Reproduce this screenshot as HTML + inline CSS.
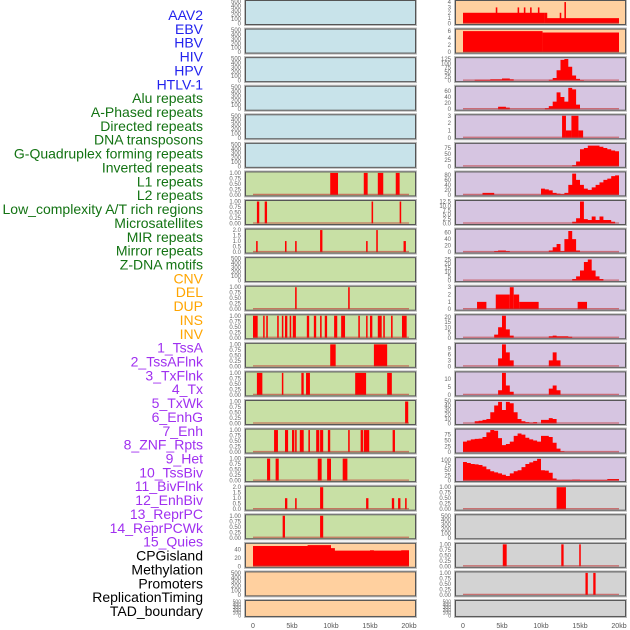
<!DOCTYPE html>
<html><head><meta charset="utf-8"><style>
html,body{margin:0;padding:0;background:#fff;width:630px;height:630px;overflow:hidden}
svg{display:block}
</style></head><body>
<svg id="chart" width="630" height="630" viewBox="0 0 630 630" xmlns="http://www.w3.org/2000/svg" font-family="Liberation Sans, sans-serif"></svg>
<script>
const trackLabels = ["AAV2","EBV","HBV","HIV","HPV","HTLV-1","Alu repeats","A-Phased repeats","Directed repeats","DNA transposons","G-Quadruplex forming repeats","Inverted repeats","L1 repeats","L2 repeats","Low_complexity A/T rich regions","Microsatellites","MIR repeats","Mirror repeats","Z-DNA motifs","CNV","DEL","DUP","INS","INV","1_TssA","2_TssAFlnk","3_TxFlnk","4_Tx","5_TxWk","6_EnhG","7_Enh","8_ZNF_Rpts","9_Het","10_TssBiv","11_BivFlnk","12_EnhBiv","13_ReprPC","14_ReprPCWk","15_Quies","CPGisland","Methylation","Promoters","ReplicationTiming","TAD_boundary"];
const labelGroups = ["v","v","v","v","v","v","r","r","r","r","r","r","r","r","r","r","r","r","r","s","s","s","s","s","c","c","c","c","c","c","c","c","c","c","c","c","c","c","c","o","o","o","o","o"];
const xTickValues = [0,5,10,15,20];
const xTickLabels = ["0","5kb","10kb","15kb","20kb"];

// Left column tracks (segments: [startKb, endKb, value])
const segL6 = [[9.9,10.9,1],[14.2,14.7,1],[16.0,16.7,1],[18.3,18.8,1]];
const segL7 = [[0.5,0.8,1],[1.5,1.8,1],[15.2,15.4,1],[18.8,19.0,1]];
const segL8 = [[0.4,0.6,1],[4.1,4.3,1],[5.4,5.6,1],[8.6,8.9,2],[14.5,14.7,1],[15.8,16.0,2],[19.3,19.6,1]];
const segL10 = [[5.4,5.6,1],[12.2,12.4,1]];
const segL11 = [[0,0.6,1],[1.3,1.4,1],[1.7,1.9,1],[3.1,3.3,1],[3.7,3.8,1],[4.1,4.4,1],[4.7,4.9,1],[5.1,5.5,1],[6.9,7.2,1],[7.8,8.1,1],[8.6,8.8,1],[9.2,9.5,1],[10.4,10.8,1],[11.3,11.8,1],[13.5,13.7,1],[14.5,14.6,1],[15.0,15.3,1],[16.0,16.5,1],[16.7,16.9,1],[17.7,17.9,1],[19.1,19.7,1]];
const segL12 = [[9.9,10.6,1],[15.5,17.2,1]];
const segL13 = [[0.5,1.2,1],[3.7,3.8,1],[6.2,6.5,1],[6.8,7.3,1],[13.1,14.5,1],[17.2,17.8,1]];
const segL14 = [[19.5,19.9,1]];
const segL15 = [[2.7,3.2,1],[4.1,4.5,1],[5.0,5.3,1],[5.4,5.6,1],[6.0,6.5,1],[7.1,7.3,1],[8.1,8.5,1],[8.6,9.0,1],[9.6,9.9,1],[12.2,12.4,1],[13.8,14.1,1],[14.2,14.9,1],[17.9,18.2,1]];
const segL16 = [[1.8,2.2,1],[2.9,3.3,1],[8.3,8.8,1],[9.5,10.0,1],[11.5,12.1,1]];
const segL17 = [[4.1,4.4,1],[5.4,5.6,1],[8.6,9.0,2],[14.5,14.8,1],[17.8,18.1,1],[18.6,18.9,1],[19.5,19.7,1]];
const segL18 = [[3.8,4.1,1],[8.6,9.0,1]];
const binsL19 = [48,48,48,48,48,48,48,48,48,48,48,48,48,48,50,50,50,50,50,50,43,37,37,37,37,37,37,37,37,37,38,37,37,37,37,37,37,37,38,38];

// Right column tracks
const segR0 = [[0,10.5,2],[10.5,20,1],[4.2,4.4,3],[7.0,7.2,3],[7.8,8.0,3],[8.6,8.8,3],[9.6,9.8,3],[10.5,10.8,2],[12.4,12.6,2],[13.0,13.2,4]];
const segR1 = [[0,10.2,6],[10.2,20,5.6]];
const binsR2 = [0,0,0,5,5,5,5,8,8,8,12,12,8,0,0,0,0,0,0,0,0,0,5,15,60,120,125,80,30,10,3,0,0,0,0,0,0,0,0,0];
const binsR3 = [0,0,0,0,0,0,0,0,0,8,8,5,0,0,0,0,0,0,0,0,0,3,10,25,55,40,25,70,65,15,0,0,0,0,0,0,0,0,0,0];
const segR4 = [[12.7,13.2,3],[13.2,13.9,1],[13.9,14.8,3],[14.8,15.4,1]];
const binsR5 = [0,0,0,0,0,0,0,0,0,0,0,0,0,0,0,0,0,0,0,0,0,0,0,0,0,0,0,0,5,20,70,75,85,85,85,80,75,70,65,62];
const binsR6 = [0,0,0,0,0,8,8,8,0,0,0,0,0,0,0,0,0,0,0,0,25,22,18,8,5,3,8,40,85,60,40,25,20,30,40,50,60,65,75,78];
const binsR7 = [0,0,0,0,0,0,0,0,0,0,0,0,0,0,0,0,0,0,0,0,0,0,0,0,0,0,0,0,1,3,12.5,2.5,2,4,2,4,2,2,1,0];
const binsR8 = [0,0,0,0,0,0,0,0,3,5,5,3,0,0,0,0,0,0,0,0,0,0,5,15,25,3,40,65,40,5,0,0,0,0,0,0,0,0,0,0];
const binsR9 = [0,0,0,0,0,0,0,0,0,0,0,0,0,0,0,0,0,0,0,0,0,0,0,0,0,0,0,0,2,5,12,22,25,12,5,2,0,0,0,0];
const segR10 = [[1.8,3.0,1],[4.2,6.0,2],[6.0,6.5,3],[6.5,7.2,2],[7.2,9.7,1],[14.7,15.9,1]];
const binsR11 = [0,0,0,0,0,0,0,0,3,10,21,8,2,0,0,0,0,0,0,0,0,0,1.5,2,1.5,1.5,1.5,1,0,0,0,0,0,0,0,0,0,0,0,0];
const binsR12 = [0,0,0,0,0,0,0,0,0,4,11,7,3,0,0,0,0,0,0,0,0,0,3,7,3,0,0,0,0,0,0,0,0,0,0,0,0,0,0,0];
const binsR13 = [0,0,0,0,0,0,0,0,0,3,14,6,2,0,0,0,0,0,0,0,0,0,4,6,3,0,0,0,0,0,0,0,0,0,0,0,0,0,0,0];
const binsR14 = [0,0,0,5,6,8,10,25,40,48,30,48,45,25,10,5,3,2,3,0,8,8,12,10,0,0,0,0,0,0,0,0,0,0,0,0,0,0,0,0];
const binsR15 = [45,50,55,57,58,65,85,95,92,60,30,35,45,70,80,75,62,55,50,45,70,70,65,40,15,3,0,0,0,0,0,0,0,0,0,0,0,0,0,0];
const binsR16 = [90,85,80,78,75,68,55,45,40,35,28,22,35,45,50,65,80,88,95,105,50,48,38,10,3,3,3,3,5,5,3,3,3,3,3,3,3,8,8,8];
const segR17 = [[12.0,13.2,1]];
const segR19 = [[5.1,5.6,1],[12.6,12.9,1],[14.9,15.1,1]];
const segR20 = [[15.7,16.0,1],[16.7,17.0,1]];

const ticksEmpty = [0,100,200,300,400,500];
const ticksUnit = [0,0.25,0.5,0.75,1];
const ticksTwo = [0,0.5,1,1.5,2];

// panel specs: [name, fill, segments, bins, ymax, ticks, tickDecimals]
const C_BLUE="#c8e3ea", C_GREEN="#c8e0a5", C_ORANGE="#ffd09f", C_PURPLE="#d6c5e1", C_GRAY="#d3d3d3";
const leftPanels = [
 ["aav2",C_BLUE,null,null,500,ticksEmpty,0],["ebv",C_BLUE,null,null,500,ticksEmpty,0],["hbv",C_BLUE,null,null,500,ticksEmpty,0],
 ["hiv",C_BLUE,null,null,500,ticksEmpty,0],["hpv",C_BLUE,null,null,500,ticksEmpty,0],["htlv1",C_BLUE,null,null,500,ticksEmpty,0],
 ["alu",C_GREEN,segL6,null,1,ticksUnit,2],["a-phased",C_GREEN,segL7,null,1,ticksUnit,2],["directed",C_GREEN,segL8,null,2,ticksTwo,1],
 ["dna-transposons",C_GREEN,null,null,500,ticksEmpty,0],["g-quadruplex",C_GREEN,segL10,null,1,ticksUnit,2],["inverted",C_GREEN,segL11,null,1,ticksUnit,2],
 ["l1",C_GREEN,segL12,null,1,ticksUnit,2],["l2",C_GREEN,segL13,null,1,ticksUnit,2],["low-complexity",C_GREEN,segL14,null,1,ticksUnit,2],
 ["microsatellites",C_GREEN,segL15,null,1,ticksUnit,2],["mir",C_GREEN,segL16,null,1,ticksUnit,2],["mirror",C_GREEN,segL17,null,2,ticksTwo,1],
 ["z-dna",C_GREEN,segL18,null,1,ticksUnit,2],["cnv",C_ORANGE,null,binsL19,52,[0,20,40],0],["del",C_ORANGE,null,null,500,ticksEmpty,0],["dup",C_ORANGE,null,null,500,ticksEmpty,0]
];
const rightPanels = [
 ["ins",C_ORANGE,segR0,null,4.1,[0,1,2,3,4],0],["inv",C_ORANGE,segR1,null,6.3,[0,2,4,6],0],
 ["tssa",C_PURPLE,null,binsR2,127,[0,25,50,75,100,125],0],["tssaflnk",C_PURPLE,null,binsR3,72,[0,20,40,60],0],
 ["txflnk",C_PURPLE,segR4,null,3,[0,1,2,3],0],["tx",C_PURPLE,null,binsR5,90,[0,25,50,75],0],
 ["txwk",C_PURPLE,null,binsR6,88,[0,20,40,60,80],0],["enhg",C_PURPLE,null,binsR7,12.5,[0,2.5,5,7.5,10,12.5],1],
 ["enh",C_PURPLE,null,binsR8,68,[0,20,40,60],0],["znf-rpts",C_PURPLE,null,binsR9,26,[0,5,10,15,20,25],0],
 ["het",C_PURPLE,segR10,null,3,[0,1,2,3],0],["tssbiv",C_PURPLE,null,binsR11,21,[0,5,10,15,20],0],
 ["bivflnk",C_PURPLE,null,binsR12,11,[0,3,6,9],0],["enhbiv",C_PURPLE,null,binsR13,14,[0,5,10],0],
 ["reprpc",C_PURPLE,null,binsR14,49,[0,10,20,30,40,50],0],["reprpcwk",C_PURPLE,null,binsR15,95,[0,25,50,75],0],
 ["quies",C_PURPLE,null,binsR16,106,[0,25,50,75,100],0],["cpgisland",C_GRAY,segR17,null,1,ticksUnit,2],
 ["methylation",C_GRAY,null,null,500,ticksEmpty,0],["promoters",C_GRAY,segR19,null,1,ticksUnit,2],
 ["replication-timing",C_GRAY,segR20,null,1,ticksUnit,2],["tad-boundary",C_GRAY,null,null,500,ticksEmpty,0]
];

const NS="http://www.w3.org/2000/svg";
const svg=document.getElementById("chart");
function mk(tag,attrs,parent){const e=document.createElementNS(NS,tag);for(const k in attrs)e.setAttribute(k,attrs[k]);(parent||svg).appendChild(e);return e;}

const groupColors={v:"#2222ee",r:"#137313",s:"#ffa500",c:"#a030f0",o:"#000000"};
trackLabels.forEach((t,i)=>{
  const e=mk("text",{x:203,y:15+i*13.86+5,"text-anchor":"end","font-size":"14",fill:groupColors[labelGroups[i]]});
  e.textContent=t;
  
  
});

const PITCH=28.57, PH=25;
function drawColumn(panels,px,side){
  const pw=171, x0=px+8, x1=px+164;
  const xs=kb=>x0+(kb/20)*(x1-x0);
  panels.forEach((p,i)=>{
    const top=i*PITCH, h=(i===panels.length-1)?17:PH;
    const g=mk("g",{});
    
    
    mk("rect",{x:px-0.5,y:top-0.5,width:pw+1,height:h+1,fill:"none",stroke:"#bbb","stroke-width":1},g);
    mk("rect",{x:px+0.5,y:top+0.5,width:pw-1,height:h-1,fill:p[1],stroke:"#555","stroke-width":1},g);
    const ymax=p[4], yb=top+h-1.5, yt=top+1.5;
    const ys=v=>yb-(v/ymax)*(yb-yt);
    if(p[2]){
      p[2].forEach(s=>{
        const a=xs(s[0]), w=Math.max(1.5,xs(s[1])-a);
        const r=mk("rect",{x:a,y:ys(s[2]),width:w,height:yb-ys(s[2]),fill:"#ff0000"},g);
        
        
      });
    }
    if(p[3]){
      let d="M"+xs(0)+","+yb;
      p[3].forEach((v,k)=>{d+=" L"+xs(k*0.5)+","+ys(v)+" L"+xs(k*0.5+0.5)+","+ys(v);});
      d+=" L"+xs(p[3].length*0.5)+","+yb+" Z";
      const a=mk("path",{d:d,fill:"#ff0000"},g);
      
      
    }
    if(p[2]||p[3]){
      mk("line",{x1:xs(0),x2:xs(20),y1:yb-0.5,y2:yb-0.5,stroke:"#c03030","stroke-opacity":0.6,"stroke-width":1.3},g);
    }
    const ticks=p[5];
    const fs=(i===panels.length-1)?5:6;
    ticks.forEach(tv=>{
      const y=(i===panels.length-1)? yb-(tv/ymax)*(yb-yt) : ys(tv);
      const t=mk("text",{x:px-4,y:y+2,"text-anchor":"end","font-size":fs,fill:"#666"},g);
      t.textContent=tv.toFixed(p[6]);
      
      
    });
  });
  xTickValues.forEach((v,k)=>{
    const t=mk("text",{x:xs(v),y:628,"text-anchor":"middle","font-size":"7",fill:"#555"});
    t.textContent=xTickLabels[k];
    
    
  });
}
drawColumn(leftPanels,245,"left");
drawColumn(rightPanels,455,"right");
</script>
</body></html>
